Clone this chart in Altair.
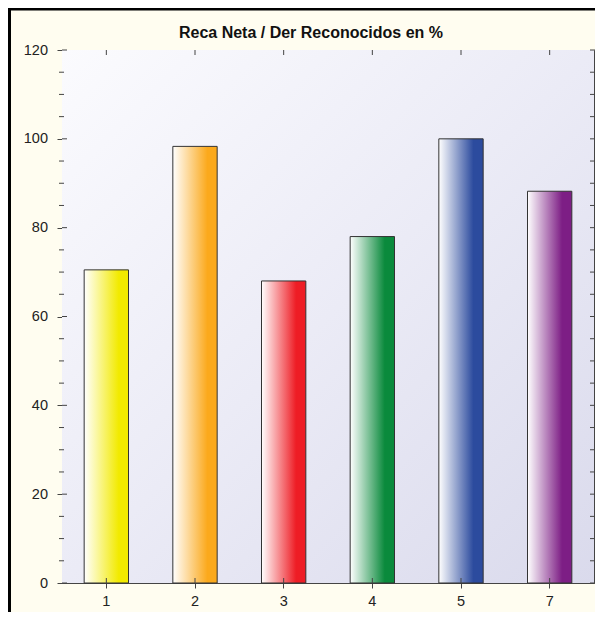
import altair as alt
import pandas as pd

cats = ["1", "2", "3", "4", "5", "7"]
vals = [70.5, 98.3, 68.0, 78.0, 100.0, 88.2]
colors = ["#F2EA00", "#FBA91C", "#EE1D25", "#0A8A3C", "#2C4B9E", "#7D1E85"]
major = [0, 20, 40, 60, 80, 100, 120]
minor = [5, 10, 15, 25, 30, 35, 45, 50, 55, 65, 70, 75, 85, 90, 95, 105, 110, 115]
title_text = ["Reca Neta / Der Reconocidos en %"]

W, H = 532, 533
FONT = "Liberation Sans"
TICK = "#444444"

df = pd.DataFrame({"cat": cats, "val": vals})
maj_df = pd.DataFrame({"val": major})
min_df = pd.DataFrame({"val": minor})
all_df = pd.DataFrame({"val": major + minor})
one = pd.DataFrame({"a": [0]})
title_df = pd.DataFrame({"t": title_text})

xscale = alt.Scale(domain=cats, paddingInner=0.5, paddingOuter=0.25)
yscale = alt.Scale(domain=[0, 120], nice=False)

x_axis = alt.Axis(title=None, labelAngle=0, tickSize=5, labelPadding=6,
                  labelFontSize=14.5, labelFont=FONT, labelColor="#222222",
                  tickColor=TICK, domainColor=TICK)
y_axis = alt.Axis(title=None, values=major, tickSize=5, labelPadding=9.5,
                  labelFontSize=14.5, labelFont=FONT, labelColor="#222222",
                  tickColor=TICK, domainColor=TICK, grid=False)

bg_grad = alt.LinearGradient(
    gradient="linear",
    stops=[alt.GradientStop(color="#FBFBFE", offset=0),
           alt.GradientStop(color="#EBEBF6", offset=0.5),
           alt.GradientStop(color="#DADAEC", offset=1)],
    x1=0, y1=0, x2=1, y2=1)

background = alt.Chart(one).mark_rect(fill=bg_grad).encode(
    x=alt.value(0), x2=alt.value(W), y=alt.value(0), y2=alt.value(H))

border = alt.Chart(one).mark_rect(fill="transparent", stroke="#000000", strokeWidth=3).encode(
    x=alt.value(-52.5), x2=alt.value(W + 60), y=alt.value(-41), y2=alt.value(H + 120))

title = alt.Chart(title_df).mark_text(
    font=FONT, fontSize=16, fontWeight="bold", color="#111111",
    align="center", baseline="alphabetic").encode(
    text="t:N", x=alt.value(W / 2 - 17), y=alt.value(-12.5))

layers = [border, background]

for c, col in zip(cats, colors):
    grad = alt.LinearGradient(
        gradient="linear",
        stops=[alt.GradientStop(color="#FFFFFF", offset=0),
               alt.GradientStop(color=col, offset=0.78),
               alt.GradientStop(color=col, offset=1)],
        x1=0, y1=0, x2=1, y2=0)
    layers.append(
        alt.Chart(df).transform_filter(alt.datum.cat == c)
        .mark_bar(fill=grad, stroke="#333333", strokeWidth=1)
        .encode(x=alt.X("cat:N", sort=cats, scale=xscale, axis=x_axis),
                y=alt.Y("val:Q", scale=yscale, axis=y_axis))
    )

# inner parts of crossing ticks
left_major_in = alt.Chart(maj_df).mark_rule(color=TICK).encode(
    y=alt.Y("val:Q", scale=yscale, axis=y_axis), x=alt.value(0), x2=alt.value(5))
left_minor = alt.Chart(min_df).mark_rule(color=TICK).encode(
    y=alt.Y("val:Q", scale=yscale, axis=y_axis), x=alt.value(-3), x2=alt.value(2))
right_ticks = alt.Chart(all_df).mark_rule(color=TICK).encode(
    y=alt.Y("val:Q", scale=yscale, axis=y_axis), x=alt.value(W - 4), x2=alt.value(W + 3))
top_ticks = alt.Chart(df).mark_rule(color=TICK).encode(
    x=alt.X("cat:N", sort=cats, scale=xscale, axis=x_axis), y=alt.value(0), y2=alt.value(5))
bottom_in = alt.Chart(df).mark_rule(color=TICK).encode(
    x=alt.X("cat:N", sort=cats, scale=xscale, axis=x_axis), y=alt.value(H - 5), y2=alt.value(H))

layers += [left_major_in, left_minor, right_ticks, top_ticks, bottom_in, title]

chart = alt.layer(*layers).properties(
    width=W, height=H,
    autosize=alt.AutoSizeParams(type="none"),
    padding={"left": 54, "top": 42, "right": 1, "bottom": 29},
).configure(background="#FFFDF0").configure_view(stroke=TICK, strokeWidth=1)

chart.save("out.html", embed_options={"renderer": "svg", "actions": False})
